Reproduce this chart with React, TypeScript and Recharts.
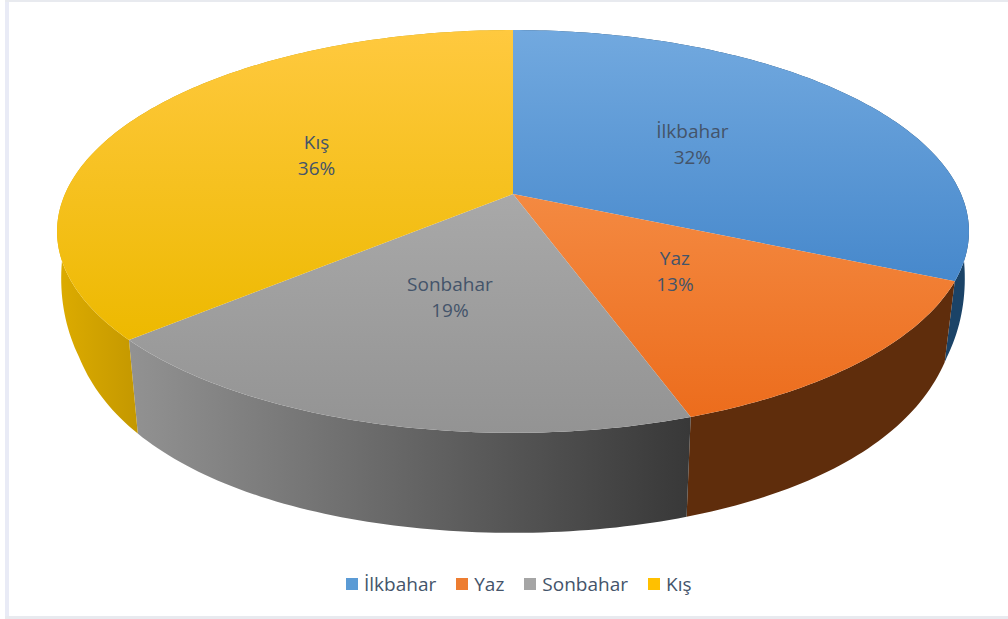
import React from 'react';
import { PieChart, Pie, Legend } from 'recharts';

const seasons = ['İlkbahar', 'Yaz', 'Sonbahar', 'Kış'];
const shares = [31.8, 12.9, 18.85, 36.45];
const legendColors = ['#5b9bd5', '#ed7d31', '#a5a5a5', '#ffc000'];
const topFills = ['url(#topBlue)', 'url(#topOrange)', 'url(#topGrey)', 'url(#topYellow)'];
const wallFills = ['#1b4367', '#5f2d0c', 'url(#wallGrey)', 'url(#wallYellow)'];

const pieData = seasons.map((name, i) => ({ name, value: shares[i], fill: topFills[i] }));
const wallData = seasons.map((name, i) => ({ name, value: shares[i], fill: wallFills[i] }));

// the 3D look: the circle from the Pie is pushed through a perspective projection
const TILT = 0.434;
const PERSPECTIVE = 0.186;
const DEPTH = 100;
const BOTTOM_SHRINK = 0.023;

const project = (cx: number, cy: number, r: number, angle: number, frac = 1) => {
  const rad = (angle * Math.PI) / 180;
  const u = Math.cos(rad) * frac;
  const v = -Math.sin(rad) * frac;
  const w = 1 - PERSPECTIVE * v;
  return { x: cx + (r * u) / w, y: cy + (r * TILT * v) / w, v, dx: (r * u) / w };
};

const arcAngles = (start: number, end: number) => {
  const steps = Math.max(2, Math.ceil(Math.abs(end - start)));
  return Array.from({ length: steps + 1 }, (_, i) => start + ((end - start) * i) / steps);
};

const TopSlice = (props: any) => {
  const { cx, cy, outerRadius, startAngle, endAngle, fill } = props;
  const pts = arcAngles(startAngle, endAngle).map((a) => project(cx, cy, outerRadius, a));
  const d = `M${cx},${cy} ` + pts.map((p) => `L${p.x},${p.y}`).join(' ') + ' Z';
  return <path d={d} fill={fill} />;
};

const WallSlice = (props: any) => {
  const { cx, cy, outerRadius, startAngle, endAngle, fill } = props;
  const top = arcAngles(startAngle, endAngle).map((a) => project(cx, cy, outerRadius, a));
  const bottom = top.map((p) => {
    const front = Math.max(p.v, 0);
    const back = 1 - front;
    return {
      x: cx + p.dx * (1 - BOTTOM_SHRINK * Math.min(1, front / 0.4)),
      y: p.y + DEPTH * (1 - 0.55 * back * back),
    };
  });
  const all = [...top, ...bottom.reverse()];
  return <path d={'M' + all.map((p) => `${p.x},${p.y}`).join(' L') + ' Z'} fill={fill} />;
};

const renderLabel = (props: any) => {
  const { cx, cy, outerRadius, midAngle, name, percent } = props;
  const p = project(cx, cy, outerRadius, midAngle, 0.5);
  return (
    <text x={p.x} textAnchor="middle" fill="#44546a" fontSize={19} fontFamily="Open Sans">
      <tspan x={p.x} y={p.y - 6}>{name}</tspan>
      <tspan x={p.x} y={p.y + 20}>{`${Math.round(percent * 100)}%`}</tspan>
    </text>
  );
};

const renderLegend = () => (
  <div style={{ display: 'flex', alignItems: 'center', fontFamily: 'Open Sans', fontSize: 19, color: '#44546a' }}>
    {seasons.map((name, i) => (
      <div key={name} style={{ display: 'flex', alignItems: 'center', marginRight: 20 }}>
        <span style={{ width: 12, height: 12, background: legendColors[i], marginRight: 6 }} />
        <span>{name}</span>
      </div>
    ))}
  </div>
);

export default function App() {
  return (
    <div
      style={{
        position: 'absolute',
        left: 0,
        top: 0,
        width: 1008,
        height: 619,
        background: '#fff',
        overflow: 'hidden',
      }}
    >
      <div style={{ position: 'absolute', left: 5, top: 0, width: 4, height: 619, background: '#e9ebf6' }} />
      <div style={{ position: 'absolute', left: 5, top: 0, width: 1003, height: 2, background: '#e8eaef' }} />
      <div style={{ position: 'absolute', left: 5, top: 616, width: 1003, height: 3, background: '#e8eaef' }} />
      <PieChart width={1008} height={619} margin={{ top: 0, right: 0, bottom: 0, left: 0 }}>
        <defs>
          <linearGradient id="topBlue" gradientUnits="userSpaceOnUse" x1="0" y1="30" x2="0" y2="290">
            <stop offset="0" stopColor="#72a9df" />
            <stop offset="1" stopColor="#4587cb" />
          </linearGradient>
          <linearGradient id="topOrange" gradientUnits="userSpaceOnUse" x1="0" y1="190" x2="0" y2="420">
            <stop offset="0" stopColor="#f48a42" />
            <stop offset="1" stopColor="#ec6c1c" />
          </linearGradient>
          <linearGradient id="topGrey" gradientUnits="userSpaceOnUse" x1="0" y1="190" x2="0" y2="435">
            <stop offset="0" stopColor="#a9a9a9" />
            <stop offset="1" stopColor="#939393" />
          </linearGradient>
          <linearGradient id="topYellow" gradientUnits="userSpaceOnUse" x1="0" y1="30" x2="0" y2="340">
            <stop offset="0" stopColor="#ffc93f" />
            <stop offset="1" stopColor="#edb900" />
          </linearGradient>
          <linearGradient id="wallGrey" gradientUnits="userSpaceOnUse" x1="130" y1="0" x2="690" y2="0">
            <stop offset="0" stopColor="#929292" />
            <stop offset="1" stopColor="#383838" />
          </linearGradient>
          <linearGradient id="wallYellow" gradientUnits="userSpaceOnUse" x1="60" y1="0" x2="137" y2="0">
            <stop offset="0" stopColor="#dcab00" />
            <stop offset="1" stopColor="#c49800" />
          </linearGradient>
        </defs>
        <Pie
          data={wallData}
          dataKey="value"
          nameKey="name"
          cx={513}
          cy={194}
          outerRadius={448}
          startAngle={90}
          endAngle={-270}
          stroke="none"
          legendType="none"
          label={false}
          labelLine={false}
          shape={WallSlice}
          isAnimationActive={false}
        />
        <Pie
          data={pieData}
          dataKey="value"
          nameKey="name"
          cx={513}
          cy={194}
          outerRadius={448}
          startAngle={90}
          endAngle={-270}
          stroke="none"
          label={renderLabel}
          labelLine={false}
          shape={TopSlice}
          isAnimationActive={false}
        />
        <Legend content={renderLegend} wrapperStyle={{ left: 346, top: 571, width: 'auto' }} />
      </PieChart>
    </div>
  );
}
